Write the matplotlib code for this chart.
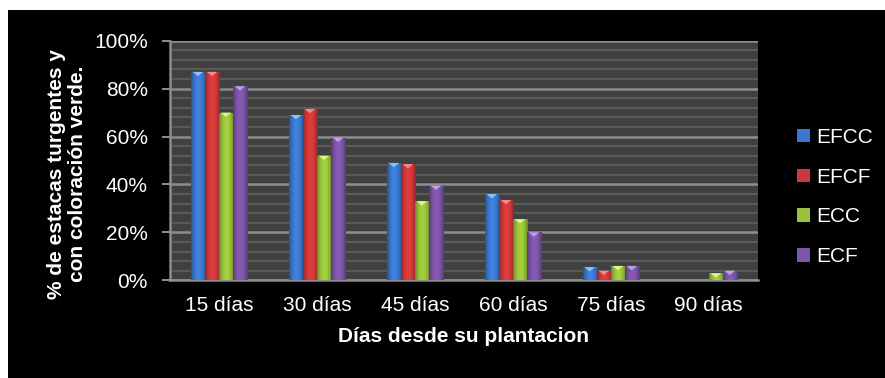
import matplotlib
matplotlib.use('Agg')
import matplotlib.pyplot as plt
import numpy as np
from matplotlib.patches import Patch, Polygon, Rectangle
from matplotlib.ticker import MultipleLocator, PercentFormatter
from matplotlib.colors import to_rgb

plt.rcParams['font.family'] = ['Liberation Sans', 'DejaVu Sans']

categories = ['15 días', '30 días', '45 días', '60 días', '75 días', '90 días']
series_names = ['EFCC', 'EFCF', 'ECC', 'ECF']
efcc = [87, 69, 49, 36, 5.5, 0]
efcf = [87, 71.5, 48.5, 33.5, 4, 0]
ecc = [70, 52, 33, 25.5, 6, 3]
ecf = [81, 59.5, 39.5, 20, 6, 4]
series = [efcc, efcf, ecc, ecf]

colors = ['#3a78cf', '#cf3838', '#98c23a', '#7c55a6']
cap_colors = ['#8cc2f5', '#f28a8a', '#dcf58a', '#c0a0e6']


def shade(color, n=32):
    # darker at both edges, brighter in the middle of the bar
    base = np.array(to_rgb(color))
    t = np.linspace(-1, 1, n)
    f = 1.08 - 0.38 * t ** 2
    rgb = np.clip(base[None, :] * f[:, None], 0, 1)
    return rgb[None, :, :]


fig = plt.figure(figsize=(8.85, 3.78), dpi=100, facecolor='white')
fig.patches.append(Rectangle((8 / 885, 0), 1, 1 - 10 / 378, transform=fig.transFigure,
                             facecolor='black', edgecolor='none', zorder=-5))

ax = fig.add_axes([170 / 885, 1 - 280.3 / 378, 587.7 / 885, 239.6 / 378])
ax.set_zorder(2)
ax.set_facecolor('#404040')

x = np.arange(len(categories))
w = 0.143
for i, (vals, c, cc) in enumerate(zip(series, colors, cap_colors)):
    xs = x + (i - 1.5) * w
    bars = ax.bar(xs, vals, width=w, color=c, edgecolor='none', zorder=3)
    for b, v in zip(bars, vals):
        if v <= 0:
            continue
        x0 = b.get_x()
        im = ax.imshow(shade(c), extent=[x0, x0 + w, 0, v], aspect='auto',
                       interpolation='bilinear', zorder=3.5)
        im.set_clip_path(b)
        tri = Polygon([[x0 + 0.12 * w, v], [x0 + 0.88 * w, v], [x0 + 0.5 * w, v - 1.8]],
                      closed=True, facecolor=cc, edgecolor='none', zorder=4)
        ax.add_patch(tri)

ax.set_xlim(-0.5, len(categories) - 0.5)
ax.set_ylim(0, 100)
ax.yaxis.set_major_locator(MultipleLocator(20))
ax.yaxis.set_minor_locator(MultipleLocator(4))
ax.yaxis.set_major_formatter(PercentFormatter(decimals=0))
ax.set_xticks(x)
ax.set_xticklabels(categories)

ax.grid(which='minor', axis='y', color='#5a5a5a', linewidth=1.5)
ax.grid(which='major', axis='y', color='#8c8c8c', linewidth=1.8)
ax.set_axisbelow(True)

for s in ['top', 'right']:
    ax.spines[s].set_visible(False)
for s in ['left', 'bottom']:
    ax.spines[s].set_color('#8c8c8c')
    ax.spines[s].set_linewidth(1.8)

ax.tick_params(axis='y', which='major', length=6, width=1.5, color='#8c8c8c',
               colors='white', labelsize=15, pad=10)
ax.tick_params(axis='y', which='minor', length=0)
ax.tick_params(axis='x', length=0, colors='white', labelsize=15, pad=11)
for lbl in ax.get_yticklabels():
    lbl.set_color('white')

ax.set_xlabel('Días desde su plantacion', color='white', fontsize=15,
              fontweight='bold', labelpad=9)
fig.text(67 / 885, 1 - 174 / 378, '% de estacas turgentes y\ncon coloración verde.',
         rotation=90, ha='center', va='center', color='white', fontsize=15,
         fontweight='bold', linespacing=1.15)

handles = [Patch(facecolor=c, edgecolor='none') for c in colors]
leg = fig.legend(handles, series_names, loc='center left',
                 bbox_to_anchor=(797 / 885, 1 - 197 / 378), frameon=False,
                 fontsize=15, labelcolor='white', handlelength=0.6, handleheight=0.6,
                 handletextpad=0.3, labelspacing=1.0, borderpad=0, borderaxespad=0)

fig.savefig('out.png', dpi=100, facecolor=fig.get_facecolor())
